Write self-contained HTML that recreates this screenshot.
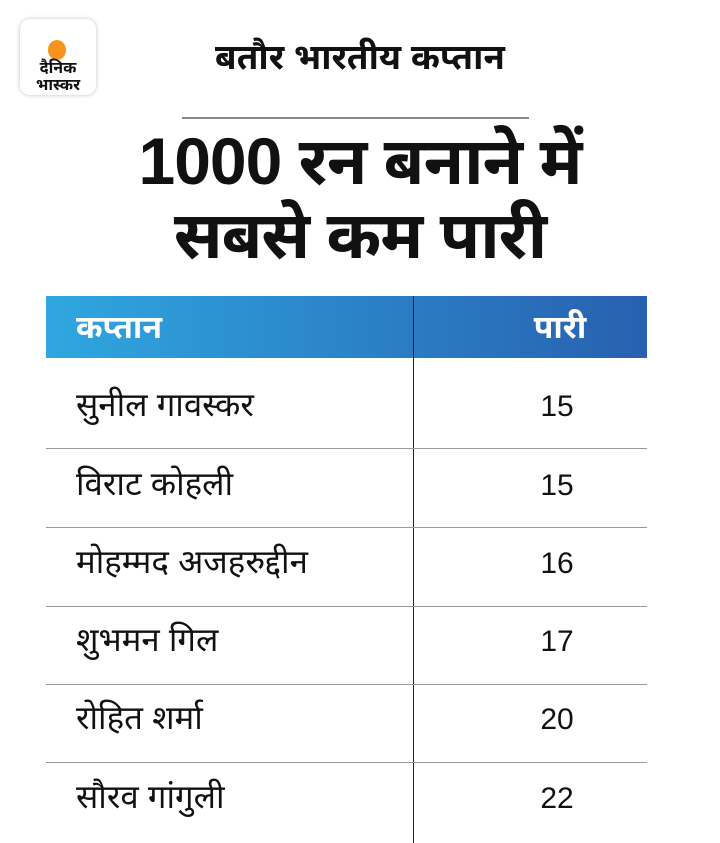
<!DOCTYPE html>
<html><head><meta charset="utf-8"><style>
body{margin:0;width:720px;height:843px;background:#fff;position:relative;overflow:hidden;font-family:"Liberation Sans","Noto Sans Devanagari","Lohit Devanagari",sans-serif;color:#111}
.a{position:absolute}
.logo{left:20px;top:19px;width:76px;height:76px;border-radius:10px;background:#fff;box-shadow:0 0 4px rgba(0,0,0,.25)}
.dot{left:48px;top:40px;width:18px;height:20px;border-radius:50%;background:#f7941d}
.t1{left:0;width:720px;top:36px;text-align:center;font-size:35px;font-weight:bold;line-height:44px}
.hr{left:182px;top:117px;width:347px;height:2px;background:#888}
.t2{left:0;width:720px;top:124px;text-align:center;font-size:66px;font-weight:bold;line-height:74px;letter-spacing:-1px}
.hd{left:46px;top:296px;width:601px;height:62px;background:linear-gradient(90deg,#2fa7df,#2860b0)}
.vl{left:413px;top:296px;width:1px;height:547px;background:#222}
.hl{left:46px;width:601px;height:1px;background:#999}
.c1{left:76px;font-size:33px;line-height:40px}
.c2{left:497px;width:120px;text-align:center;font-size:30px;line-height:40px}
</style></head><body>
<div class="a logo"></div><div class="a dot"></div>
<div class="a" style="left:22px;top:60px;width:72px;text-align:center;font-size:16px;font-weight:bold;line-height:17px">दैनिक<br>भास्कर</div>
<div class="a t1">बतौर भारतीय कप्तान</div>
<div class="a hr"></div>
<div class="a t2">1000 रन बनाने में<br>सबसे कम पारी</div>
<div class="a hd"></div>
<div class="a c1" style="top:307px;color:#fff;font-weight:bold;font-size:32px">कप्तान</div>
<div class="a c2" style="top:307px;color:#fff;font-weight:bold;left:500px;font-size:32px">पारी</div>
<div class="a vl"></div>
<div class="a hl" style="top:448px"></div>
<div class="a hl" style="top:527px"></div>
<div class="a hl" style="top:606px"></div>
<div class="a hl" style="top:684px"></div>
<div class="a hl" style="top:762px"></div>
<div class="a c1" style="top:385px">सुनील गावस्कर</div><div class="a c2" style="top:387px">15</div>
<div class="a c1" style="top:464px">विराट कोहली</div><div class="a c2" style="top:466px">15</div>
<div class="a c1" style="top:542px">मोहम्मद अजहरुद्दीन</div><div class="a c2" style="top:544px">16</div>
<div class="a c1" style="top:620px">शुभमन गिल</div><div class="a c2" style="top:622px">17</div>
<div class="a c1" style="top:698px">रोहित शर्मा</div><div class="a c2" style="top:700px">20</div>
<div class="a c1" style="top:777px">सौरव गांगुली</div><div class="a c2" style="top:779px">22</div>
</body></html>
